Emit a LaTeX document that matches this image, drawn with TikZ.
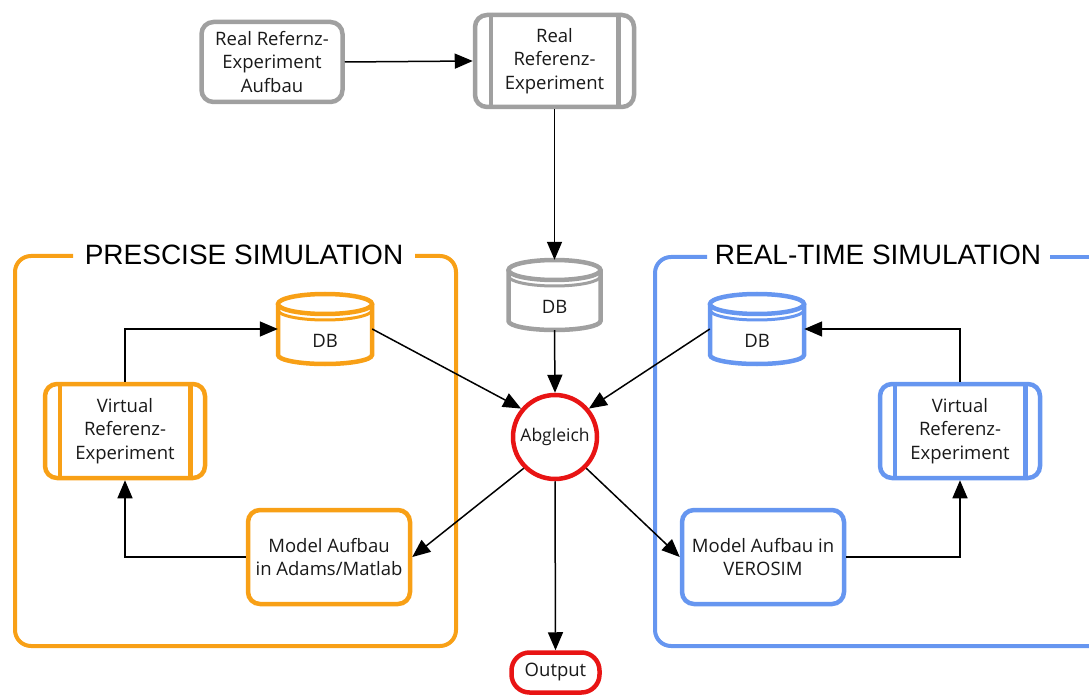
\documentclass[tikz,border=0pt]{standalone}
\usepackage{fontspec}
\setmainfont{Open Sans}
\newfontfamily\titlefont{Liberation Sans}
\usetikzlibrary{arrows.meta,calc}

\definecolor{frameorange}{RGB}{248,160,22}
\definecolor{frameblue}{RGB}{102,150,240}
\definecolor{framegray}{RGB}{160,160,160}
\definecolor{framered}{RGB}{232,20,20}
\definecolor{inktext}{RGB}{25,25,25}

% database cylinder: name, centre x, top y, bottom y, half width, colour
\newcommand\dbcyl[6]{%
  \pgfmathsetmacro\dbL{#2-#5}%
  \pgfmathsetmacro\dbR{#2+#5}%
  \pgfmathsetmacro\dbT{#3+10}%
  \pgfmathsetmacro\dbRing{#3+16}%
  \pgfmathsetmacro\dbB{#4-9}%
  \pgfmathsetmacro\dbC{(#3+#4)/2}%
  \pgfmathsetmacro\dbH{#4-#3}%
  \pgfmathsetmacro\dbW{2*#5}%
  \node[minimum width=\dbW pt, minimum height=\dbH pt, inner sep=0pt] (#1) at (#2,\dbC) {};
  \draw[#6, line width=4.5pt, fill=white]
    (\dbL,\dbT) -- (\dbL,\dbB) arc[start angle=180, end angle=0, x radius=#5, y radius=9] -- (\dbR,\dbT);
  \draw[#6, line width=4.5pt, fill=white] (#2,\dbT) ellipse[x radius=#5, y radius=10];
  \draw[#6, line width=3pt] (\dbL,\dbRing) arc[start angle=180, end angle=0, x radius=#5, y radius=10];
  \node[boxtext] at (#2,\dbC+12) {DB};
}

\begin{document}
\begin{tikzpicture}[x=1pt,y=-1pt,
  boxtext/.style={font=\fontsize{18.5}{23.5}\selectfont, text=inktext, align=center},
  procbox/.style={boxtext, draw, line width=4.5pt, rounded corners=12pt, fill=white, inner sep=0pt},
  conn/.style={draw=black, line width=1.5pt, -{Triangle[length=18pt,width=15pt]}},
  titletext/.style={font=\titlefont\fontsize{28}{30}\selectfont, text=black}
]
\useasboundingbox (0,0) rectangle (1089,700);
\clip (0,0) rectangle (1089,700);

% group frames with their headings
\draw[frameorange, line width=4pt, rounded corners=16pt]
  (73,256) -| (15,646) -| (456,256) -- (415,256);
\node[titletext] (headprec) at (244,255) {PRESCISE SIMULATION};
\draw[frameblue, line width=4pt, rounded corners=16pt]
  (707,257) -| (655,646) -- (1110,646);
\draw[frameblue, line width=4pt] (1050,257) -- (1110,257);
\node[titletext] (headrt) at (878,255) {REAL-TIME SIMULATION};

% real reference experiment
\node[procbox, draw=framegray, minimum width=141pt, minimum height=80pt] (realsetup) at (272,62)
  {Real Refernz-\\Experiment\\Aufbau};
\node[procbox, draw=framegray, minimum width=159pt, minimum height=92pt] (realexp) at (554.5,61)
  {Real\\Referenz-\\Experiment};
\draw[framegray, line width=4.5pt] ([xshift=18pt]realexp.north west) -- ([xshift=18pt]realexp.south west)
  ([xshift=-18pt]realexp.north east) -- ([xshift=-18pt]realexp.south east);

\dbcyl{dbreal}{554.5}{260}{330}{46}{framegray}

% comparison and output
\node[circle, draw=framered, line width=4.5pt, fill=white, minimum size=84pt, inner sep=0pt,
  font=\fontsize{17.5}{20}\selectfont, text=inktext] (abg) at (555,437) {Abgleich};
\node[procbox, draw=framered, rounded corners=18pt, minimum width=88pt, minimum height=40pt] (out) at (555.5,672.5) {Output};

% precise simulation
\dbcyl{dbprec}{325}{294}{364}{47}{frameorange}
\node[procbox, draw=frameorange, minimum width=160pt, minimum height=94pt] (vprec) at (125,431)
  {Virtual\\Referenz-\\Experiment};
\draw[frameorange, line width=4.5pt] ([xshift=17pt]vprec.north west) -- ([xshift=17pt]vprec.south west)
  ([xshift=-17pt]vprec.north east) -- ([xshift=-17pt]vprec.south east);
\node[procbox, draw=frameorange, minimum width=162pt, minimum height=94pt] (mprec) at (329,557)
  {Model Aufbau\\in Adams/Matlab};

% real-time simulation
\dbcyl{dbrt}{757}{294}{364}{47}{frameblue}
\node[procbox, draw=frameblue, minimum width=160pt, minimum height=94pt] (vrt) at (960,431)
  {Virtual\\Referenz-\\Experiment};
\draw[frameblue, line width=4.5pt] ([xshift=17pt]vrt.north west) -- ([xshift=17pt]vrt.south west)
  ([xshift=-17pt]vrt.north east) -- ([xshift=-17pt]vrt.south east);
\node[procbox, draw=frameblue, minimum width=162pt, minimum height=94pt] (mrt) at (763,557)
  {Model Aufbau in\\VEROSIM};

% connectors
\draw[conn] (realsetup.east) -- (realexp.west);
\draw[conn] (realexp.south) -- (dbreal.north);
\draw[conn] (dbreal.south) -- (abg.north);
\draw[conn] (dbprec.east) -- (abg.140);
\draw[conn] (dbrt.west) -- (abg.40);
\draw[conn] (abg.225) -- (mprec.east);
\draw[conn] (abg.315) -- (mrt.west);
\draw[conn] (abg.south) -- (out.north);
\draw[conn] (mprec.west) -| (vprec.south);
\draw[conn] (vprec.north) |- (dbprec.west);
\draw[conn] (mrt.east) -| (vrt.south);
\draw[conn] (vrt.north) |- (dbrt.east);
\end{tikzpicture}
\end{document}
